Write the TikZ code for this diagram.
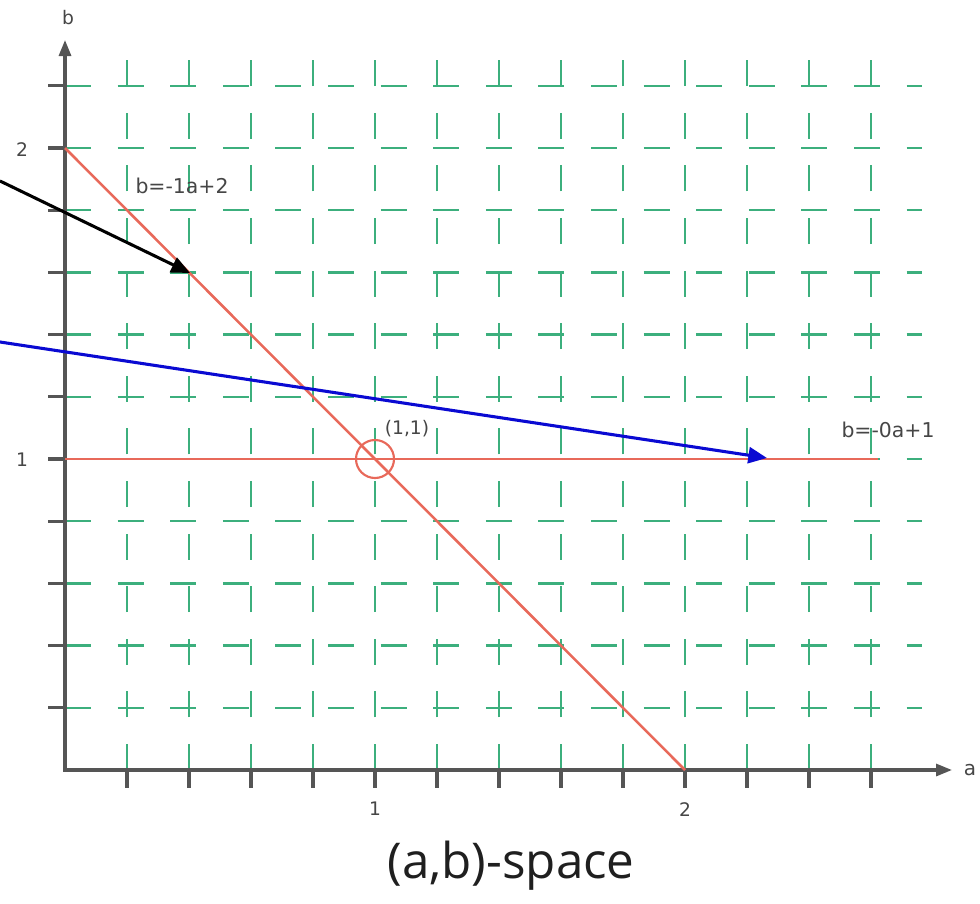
\documentclass[tikz,border=0pt]{standalone}
\usepackage{fontspec}
\setmainfont{DejaVu Sans}
\newfontfamily\bigfont{Open Sans}
\usetikzlibrary{arrows.meta}
\definecolor{gridgreen}{RGB}{60,175,125}
\definecolor{axisgray}{RGB}{85,85,85}
\definecolor{linered}{RGB}{232,105,90}
\definecolor{txtgray}{RGB}{70,70,70}
\definecolor{arrowblue}{RGB}{10,10,210}
\tikzset{
  gridline/.style={draw=gridgreen, line width=1.7pt, dash pattern=on 19.5pt off 19.95pt},
  axisline/.style={draw=axisgray, line width=2.3pt},
  redline/.style={draw=linered, line width=1.9pt},
  bigtip/.style={-{Triangle[length=14pt,width=12pt]}},
  lbl/.style={text=txtgray, font=\fontsize{15.3}{18}\selectfont, inner sep=0pt},
  numlbl/.style={text=txtgray, font=\fontsize{14}{16}\selectfont, inner sep=0pt},
}
\begin{document}
\begin{tikzpicture}[x=0.75pt,y=-0.75pt]
\useasboundingbox (0,0) rectangle (980,903);
% grid
\foreach \k in {1,...,11}
  \draw[gridline] (65,{770-62.2*\k}) -- (922,{770-62.2*\k});
\foreach \k in {1,...,13}
  \draw[gridline] ({65+62*\k},770) -- ({65+62*\k},58);
% ticks
\foreach \k in {1,...,11}
  \draw[axisline] (48,{770-62.2*\k}) -- (65,{770-62.2*\k});
\foreach \k in {1,...,13}
  \draw[axisline] ({65+62*\k},770) -- ({65+62*\k},788);
% axes
\coordinate (O) at (65,770);
\coordinate (A) at (952,770);
\coordinate (B) at (65,40);
\draw[axisline, {Triangle[length=12pt,width=9pt]}-{Triangle[length=12pt,width=9pt]}] (A) -- (O) -- (B);
\node[lbl, font=\fontsize{15}{17}\selectfont] (la) at (970,770) {a};
\node[lbl, font=\fontsize{14}{16}\selectfont] (lb) at (68,18) {b};
% red lines
\coordinate (P2) at (65,148);
\coordinate (Q2) at (685,770);
\draw[redline] (P2) -- (Q2);
\coordinate (P1) at (65,459);
\coordinate (Q1) at (878,459);
\draw[redline] (P1) -- (Q1);
\node[draw=linered, circle, minimum size=28.5pt, inner sep=0pt, line width=1.6pt] (c11) at (375,459) {};
% arrows
\coordinate (bs) at (0,342);
\coordinate (be) at (767,458);
\draw[draw=arrowblue, line width=2.3pt, bigtip] (bs) -- (be);
\coordinate (ks) at (0,181);
\coordinate (ke) at (190,273);
\draw[draw=black, line width=2.3pt, bigtip] (ks) -- (ke);
% labels
\node[lbl] (eq1) at (182,186) {b=-1a+2};
\node[lbl] (eq2) at (888,430) {b=-0a+1};
\node[lbl, font=\fontsize{14}{16}\selectfont] (p11) at (407,429) {(1,1)};
\node[numlbl] (x1) at (375,809) {1};
\node[numlbl] (x2) at (685,810) {2};
\node[numlbl] (y2) at (22,150) {2};
\node[numlbl] (y1) at (22,460) {1};
\node[text=black!88, font=\bigfont\fontsize{37}{44}\selectfont, inner sep=0pt] (title) at (511,866) {(a,b)-space};
\end{tikzpicture}
\end{document}
